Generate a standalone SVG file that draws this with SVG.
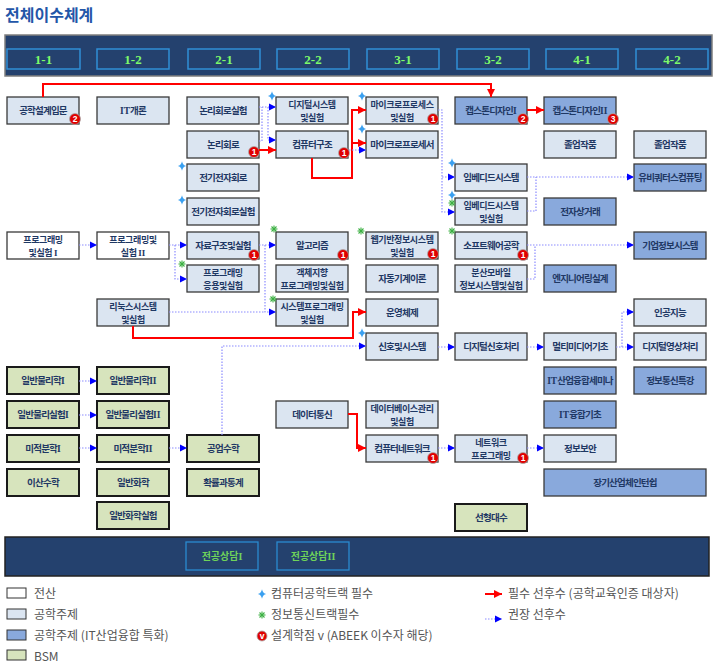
<svg xmlns="http://www.w3.org/2000/svg" width="715" height="664" viewBox="0 0 715 664">
<style>
.lt{fill:#dbe5f1;stroke:#3a3a3a;stroke-width:1.3}
.wh{fill:#ffffff;stroke:#3a3a3a;stroke-width:1.3}
.md{fill:#89a9dc;stroke:#3a3a3a;stroke-width:1.3}
.bs{fill:#d7e4bd;stroke:#1a1a1a;stroke-width:2}
.t{font-family:"Noto Sans CJK KR","Noto Sans",sans-serif;font-size:9.5px;font-weight:bold;fill:#1f3864;text-anchor:middle;letter-spacing:-0.8px}
.t2{font-family:"Noto Sans CJK KR","Noto Sans",sans-serif;font-size:9px;font-weight:bold;fill:#1f3864;text-anchor:middle;letter-spacing:-0.4px}
.rn{font-family:"Liberation Serif",serif;letter-spacing:0}
.sem{fill:#24416e;stroke:#2f8fd6;stroke-width:1.5}
.st{font-family:"Liberation Serif",serif;font-size:13px;font-weight:bold;fill:#7dfa6a;text-anchor:middle}
.red{fill:none;stroke:#ff0000;stroke-width:2;marker-end:url(#ar)}
.dot{fill:none;stroke:#8c8cff;stroke-width:1.2;stroke-dasharray:1.5 1.5;marker-end:url(#ab)}
.dotn{fill:none;stroke:#8c8cff;stroke-width:1.2;stroke-dasharray:1.5 1.5}
.bd circle{fill:#e00000;stroke:#aaaaaa;stroke-width:0.8}
.bd text{font-family:"Liberation Sans",sans-serif;font-size:8.5px;font-weight:bold;fill:#ffffff;text-anchor:middle}
.lg{font-family:"Noto Sans CJK KR","Noto Sans",sans-serif;font-size:12px;fill:#555555}
</style>
<defs>
<marker id="ab" viewBox="0 0 10 10" refX="10" refY="5" markerWidth="7" markerHeight="8" orient="auto" markerUnits="userSpaceOnUse"><path d="M0,0 L10,5 L0,10 Z" fill="#0000ff"/></marker>
<marker id="ar" viewBox="0 0 10 10" refX="10" refY="5" markerWidth="8" markerHeight="8" orient="auto" markerUnits="userSpaceOnUse"><path d="M0,0 L10,5 L0,10 Z" fill="#ff0000"/></marker>
<path id="star" d="M0,-4.8 Q0.8,-0.8 4.2,0 Q0.8,0.8 0,4.8 Q-0.8,0.8 -4.2,0 Q-0.8,-0.8 0,-4.8 Z" fill="#3aa0f0"/>
<g id="ast" stroke="#3cb043" stroke-width="1.1"><line x1="-3.5" y1="0" x2="3.5" y2="0"/><line x1="0" y1="-3.5" x2="0" y2="3.5"/><line x1="-2.5" y1="-2.5" x2="2.5" y2="2.5"/><line x1="-2.5" y1="2.5" x2="2.5" y2="-2.5"/></g>
</defs>

<text x="5" y="21" font-family="'Noto Sans CJK KR','Noto Sans',sans-serif" font-size="16" font-weight="bold" fill="#2356a8">전체이수체계</text>

<g id="header">
<rect x="5" y="35" width="707" height="41" fill="#24416e" stroke="#7f7f7f" stroke-width="1.5"/>
<rect class="sem" x="7" y="49" width="73" height="20"/><text class="st" x="43.5" y="63.5">1-1</text>
<rect class="sem" x="97" y="49" width="72" height="20"/><text class="st" x="133" y="63.5">1-2</text>
<rect class="sem" x="188" y="49" width="72" height="20"/><text class="st" x="224" y="63.5">2-1</text>
<rect class="sem" x="277" y="49" width="72" height="20"/><text class="st" x="313" y="63.5">2-2</text>
<rect class="sem" x="367" y="49" width="72" height="20"/><text class="st" x="403" y="63.5">3-1</text>
<rect class="sem" x="457" y="49" width="72" height="20"/><text class="st" x="493" y="63.5">3-2</text>
<rect class="sem" x="546" y="49" width="72" height="20"/><text class="st" x="582" y="63.5">4-1</text>
<rect class="sem" x="636" y="49" width="72" height="20"/><text class="st" x="672" y="63.5">4-2</text>
</g>

<g id="nodes">
<!-- 1-1 -->
<g id="n-design"><rect class="lt" x="7" y="97" width="72" height="27"/><text class="t" x="43" y="114">공학설계입문</text><g class="bd"><circle cx="75" cy="119" r="5.5"/><text x="75" y="122">2</text></g></g>
<g id="n-prog1"><rect class="wh" x="7" y="232" width="72" height="27"/><text class="t2" x="43" y="242.5">프로그래밍<tspan x="43" dy="13.1">및실험 </tspan><tspan class="rn">I</tspan></text></g>
<g id="n-phys1"><rect class="bs" x="7" y="367" width="72" height="27"/><text class="t" x="43" y="384">일반물리학<tspan class="rn">I</tspan></text></g>
<g id="n-physlab1"><rect class="bs" x="7" y="401" width="72" height="27"/><text class="t" x="43" y="418">일반물리실험<tspan class="rn">I</tspan></text></g>
<g id="n-calc1"><rect class="bs" x="7" y="435" width="72" height="27"/><text class="t" x="43" y="452">미적분학<tspan class="rn">I</tspan></text></g>
<g id="n-discrete"><rect class="bs" x="7" y="469" width="72" height="27"/><text class="t" x="43" y="486">이산수학</text></g>
<!-- 1-2 -->
<g id="n-it"><rect class="lt" x="97" y="97" width="72" height="27"/><text class="t" x="133" y="114"><tspan class="rn">IT</tspan>개론</text></g>
<g id="n-prog2"><rect class="wh" x="97" y="232" width="72" height="27"/><text class="t2" x="133" y="242.5">프로그래밍및<tspan x="133" dy="13.1">실험 </tspan><tspan class="rn">II</tspan></text></g>
<g id="n-linux"><rect class="lt" x="97" y="299" width="72" height="27"/><text class="t2" x="133" y="309.5">리눅스시스템<tspan x="133" dy="13.1">및실험</tspan></text></g>
<g id="n-phys2"><rect class="bs" x="97" y="367" width="72" height="27"/><text class="t" x="133" y="384">일반물리학<tspan class="rn">II</tspan></text></g>
<g id="n-physlab2"><rect class="bs" x="97" y="401" width="72" height="27"/><text class="t" x="133" y="418">일반물리실험<tspan class="rn">II</tspan></text></g>
<g id="n-calc2"><rect class="bs" x="97" y="435" width="72" height="27"/><text class="t" x="133" y="452">미적분학<tspan class="rn">II</tspan></text></g>
<g id="n-chem"><rect class="bs" x="97" y="469" width="72" height="27"/><text class="t" x="133" y="486">일반화학</text></g>
<g id="n-chemlab"><rect class="bs" x="97" y="502" width="72" height="27"/><text class="t" x="133" y="519">일반화학실험</text></g>
<!-- 2-1 -->
<g id="n-logiclab"><rect class="lt" x="187" y="97" width="72" height="27"/><text class="t" x="223" y="114">논리회로실험</text></g>
<g id="n-logic"><rect class="lt" x="187" y="131" width="72" height="27"/><text class="t" x="223" y="148">논리회로</text><g class="bd"><circle cx="254" cy="152" r="5.5"/><text x="254" y="155">1</text></g></g>
<g id="n-elec"><rect class="lt" x="187" y="164" width="72" height="27"/><text class="t" x="223" y="181">전기전자회로</text><use href="#star" x="182" y="166"/></g>
<g id="n-eleclab"><rect class="lt" x="187" y="198" width="72" height="27"/><text class="t" x="223" y="215">전기전자회로실험</text><use href="#star" x="182" y="200"/></g>
<g id="n-ds"><rect class="lt" x="187" y="232" width="72" height="27"/><text class="t" x="223" y="249">자료구조및실험</text><g class="bd"><circle cx="254" cy="255" r="5.5"/><text x="254" y="258">1</text></g></g>
<g id="n-progapp"><rect class="lt" x="187" y="265" width="72" height="27"/><text class="t2" x="223" y="275.5">프로그래밍<tspan x="223" dy="13.1">응용및실험</tspan></text><use href="#ast" x="182" y="264"/></g>
<g id="n-engmath"><rect class="bs" x="187" y="435" width="72" height="27"/><text class="t" x="223" y="452">공업수학</text></g>
<g id="n-prob"><rect class="bs" x="187" y="469" width="72" height="27"/><text class="t" x="223" y="486">확률과통계</text></g>
<!-- 2-2 -->
<g id="n-digsys"><rect class="lt" x="276" y="97" width="72" height="27"/><text class="t2" x="312" y="107.5">디지털시스템<tspan x="312" dy="13.1">및실험</tspan></text><use href="#star" x="272" y="96"/></g>
<g id="n-arch"><rect class="lt" x="276" y="131" width="72" height="27"/><text class="t" x="312" y="148">컴퓨터구조</text><g class="bd"><circle cx="344" cy="153" r="5.5"/><text x="344" y="156">1</text></g></g>
<g id="n-algo"><rect class="lt" x="276" y="232" width="72" height="27"/><text class="t" x="312" y="249">알고리즘</text><g class="bd"><circle cx="343" cy="255" r="5.5"/><text x="343" y="258">1</text></g><use href="#ast" x="274" y="229"/></g>
<g id="n-oop"><rect class="lt" x="276" y="265" width="72" height="27"/><text class="t2" x="312" y="275.5">객체지향<tspan x="312" dy="13.1">프로그래밍및실험</tspan></text></g>
<g id="n-sysprog"><rect class="lt" x="276" y="299" width="72" height="27"/><text class="t2" x="312" y="309.5">시스템프로그래밍<tspan x="312" dy="13.1">및실험</tspan></text><use href="#ast" x="273" y="299"/></g>
<g id="n-datacomm"><rect class="lt" x="276" y="401" width="72" height="27"/><text class="t" x="312" y="418">데이터통신</text></g>
<!-- 3-1 -->
<g id="n-mplab"><rect class="lt" x="366" y="97" width="72" height="27"/><text class="t2" x="402" y="107.5">마이크로프로세스<tspan x="402" dy="13.1">및실험</tspan></text><g class="bd"><circle cx="433" cy="119" r="5.5"/><text x="433" y="122">1</text></g><use href="#star" x="362" y="96"/></g>
<g id="n-mp"><rect class="lt" x="366" y="131" width="72" height="27"/><text class="t" x="402" y="148">마이크로프로세서</text><use href="#star" x="362" y="129"/></g>
<g id="n-web"><rect class="lt" x="366" y="232" width="72" height="27"/><text class="t2" x="402" y="242.5">웹기반정보시스템<tspan x="402" dy="13.1">및실험</tspan></text><g class="bd"><circle cx="433" cy="254" r="5.5"/><text x="433" y="257">1</text></g><use href="#ast" x="361" y="231"/></g>
<g id="n-automata"><rect class="lt" x="366" y="265" width="72" height="27"/><text class="t" x="402" y="282">자동기계이론</text></g>
<g id="n-os"><rect class="lt" x="366" y="299" width="72" height="27"/><text class="t" x="402" y="316">운영체제</text></g>
<g id="n-signal"><rect class="lt" x="366" y="333" width="72" height="27"/><text class="t" x="402" y="350">신호및시스템</text><use href="#star" x="362" y="333"/></g>
<g id="n-db"><rect class="lt" x="366" y="401" width="72" height="27"/><text class="t2" x="402" y="411.5">데이터베이스관리<tspan x="402" dy="13.1">및실험</tspan></text></g>
<g id="n-net"><rect class="lt" x="366" y="435" width="72" height="27"/><text class="t" x="402" y="452">컴퓨터네트워크</text><g class="bd"><circle cx="433" cy="458" r="5.5"/><text x="433" y="461">1</text></g></g>
<!-- 3-2 -->
<g id="n-cap1"><rect class="md" x="455" y="97" width="72" height="27"/><text class="t" x="491" y="114">캡스톤디자인<tspan class="rn">I</tspan></text><g class="bd"><circle cx="523" cy="119" r="5.5"/><text x="523" y="122">2</text></g></g>
<g id="n-emb"><rect class="lt" x="455" y="164" width="72" height="27"/><text class="t" x="491" y="181">임베디드시스템</text><use href="#star" x="452" y="163"/></g>
<g id="n-emblab"><rect class="lt" x="455" y="198" width="72" height="27"/><text class="t2" x="491" y="208.5">임베디드시스템<tspan x="491" dy="13.1">및실험</tspan></text><use href="#star" x="452" y="195"/><use href="#ast" x="452" y="203"/></g>
<g id="n-se"><rect class="lt" x="455" y="232" width="72" height="27"/><text class="t" x="491" y="249">소프트웨어공학</text><g class="bd"><circle cx="523" cy="255" r="5.5"/><text x="523" y="258">1</text></g><use href="#ast" x="452" y="231"/></g>
<g id="n-mobile"><rect class="lt" x="455" y="265" width="72" height="27"/><text class="t2" x="491" y="275.5">분산모바일<tspan x="491" dy="13.1">정보시스템및실험</tspan></text></g>
<g id="n-dsp"><rect class="lt" x="455" y="333" width="72" height="27"/><text class="t" x="491" y="350">디지털신호처리</text></g>
<g id="n-netprog"><rect class="lt" x="455" y="435" width="72" height="27"/><text class="t2" x="491" y="445.5">네트워크<tspan x="491" dy="13.1">프로그래밍</tspan></text><g class="bd"><circle cx="523" cy="458" r="5.5"/><text x="523" y="461">1</text></g></g>
<g id="n-linalg"><rect class="bs" x="455" y="504" width="72" height="27"/><text class="t" x="491" y="521">선형대수</text></g>
<!-- 4-1 -->
<g id="n-cap2"><rect class="md" x="544" y="97" width="72" height="27"/><text class="t" x="580" y="114">캡스톤디자인<tspan class="rn">II</tspan></text><g class="bd"><circle cx="613" cy="119" r="5.5"/><text x="613" y="122">3</text></g></g>
<g id="n-grad1"><rect class="lt" x="544" y="131" width="72" height="27"/><text class="t" x="580" y="148">졸업작품</text></g>
<g id="n-ecom"><rect class="md" x="544" y="198" width="72" height="27"/><text class="t" x="580" y="215">전자상거래</text></g>
<g id="n-engdesign"><rect class="md" x="544" y="265" width="72" height="27"/><text class="t" x="580" y="282">엔지니어링실계</text></g>
<g id="n-mm"><rect class="lt" x="544" y="333" width="72" height="27"/><text class="t" x="580" y="350">멀티미디어기초</text></g>
<g id="n-itsem"><rect class="md" x="544" y="367" width="72" height="27"/><text class="t" x="580" y="384"><tspan class="rn">IT</tspan>산업융합세미나</text></g>
<g id="n-itbase"><rect class="md" x="544" y="401" width="72" height="27"/><text class="t" x="580" y="418"><tspan class="rn">IT</tspan>융합기초</text></g>
<g id="n-sec"><rect class="lt" x="544" y="435" width="72" height="27"/><text class="t" x="580" y="452">정보보안</text></g>
<g id="n-intern"><rect class="md" x="544" y="469" width="162" height="27"/><text class="t" x="625" y="486">장기산업체인턴쉽</text></g>
<!-- 4-2 -->
<g id="n-grad2"><rect class="lt" x="634" y="131" width="72" height="27"/><text class="t" x="670" y="148">졸업작품</text></g>
<g id="n-ubi"><rect class="md" x="634" y="164" width="72" height="27"/><text class="t" x="670" y="181">유비쿼터스컴퓨팅</text></g>
<g id="n-erp"><rect class="md" x="634" y="232" width="72" height="27"/><text class="t" x="670" y="249">기업정보시스템</text></g>
<g id="n-ai"><rect class="lt" x="634" y="299" width="72" height="27"/><text class="t" x="670" y="316">인공지능</text></g>
<g id="n-dip"><rect class="lt" x="634" y="333" width="72" height="27"/><text class="t" x="670" y="350">디지털영상처리</text></g>
<g id="n-telecom"><rect class="md" x="634" y="367" width="72" height="27"/><text class="t" x="670" y="384">정보통신특강</text></g>
</g>

<g id="connectors">
<path class="red" d="M43,97 V84 H491 V97"/>
<path class="red" d="M527,110 H544"/>
<path class="red" d="M259,150 H276"/>
<path class="red" d="M312,158 V178 H352 V110 H366"/>
<path class="red" d="M352,143 H366"/>
<path class="red" d="M133,326 V338 H353 V312 H366"/>
<path class="red" d="M348,414 H357 V448 H366"/>
<path class="dot" d="M259,107 H276"/>
<path class="dotn" d="M259,141 H262 V107"/>
<path class="dot" d="M268,107 V140 H276"/>
<path class="dot" d="M349,150 H366"/>
<path class="dot" d="M438,110 H442 V212 H455"/>
<path class="dot" d="M442,177 H455"/>
<path class="dot" d="M527,177 H634"/>
<path class="dotn" d="M527,211 H536 V177"/>
<path class="dot" d="M79,245 H97"/>
<path class="dot" d="M169,245 H187"/>
<path class="dot" d="M175,245 V279 H187"/>
<path class="dot" d="M259,245 H276"/>
<path class="dot" d="M265,245 V312 H276"/>
<path class="dotn" d="M169,312 H265"/>
<path class="dot" d="M527,245 H634"/>
<path class="dotn" d="M527,279 H535 V245"/>
<path class="dot" d="M438,347 H455"/>
<path class="dot" d="M527,347 H544"/>
<path class="dot" d="M616,347 H634"/>
<path class="dot" d="M622,347 V312 H634"/>
<path class="dot" d="M222,435 V346 H366"/>
<path class="dot" d="M79,381 H97"/>
<path class="dot" d="M79,415 H97"/>
<path class="dot" d="M79,448 H97"/>
<path class="dot" d="M169,448 H187"/>
<path class="dot" d="M438,448 H455"/>
<path class="dot" d="M527,448 H544"/>
</g>

<g id="footer">
<rect x="5" y="537" width="704" height="39" fill="#24416e" stroke="#222222" stroke-width="1.5"/>
<rect x="186" y="542" width="72" height="28" fill="#24416e" stroke="#2a8ad0" stroke-width="1.3"/>
<text x="222" y="560" font-family="'Noto Sans CJK KR',sans-serif" font-size="10" font-weight="bold" fill="#6fd35a" text-anchor="middle">전공상담<tspan font-family="'Liberation Serif',serif">I</tspan></text>
<rect x="277" y="542" width="72" height="28" fill="#24416e" stroke="#2a8ad0" stroke-width="1.3"/>
<text x="313" y="560" font-family="'Noto Sans CJK KR',sans-serif" font-size="10" font-weight="bold" fill="#6fd35a" text-anchor="middle">전공상담<tspan font-family="'Liberation Serif',serif">II</tspan></text>
</g>

<g id="legend">
<rect x="7" y="588" width="19" height="10" fill="#ffffff" stroke="#333333"/>
<text class="lg" x="34" y="598">전산</text>
<rect x="7" y="609" width="19" height="10" fill="#dbe5f1" stroke="#333333"/>
<text class="lg" x="34" y="619">공학주제</text>
<rect x="7" y="630" width="19" height="10" fill="#89a9dc" stroke="#333333"/>
<text class="lg" x="34" y="640">공학주제 (IT산업융합 특화)</text>
<rect x="7" y="650" width="19" height="10" fill="#d7e4bd" stroke="#333333"/>
<text class="lg" x="34" y="661">BSM</text>
<use href="#star" x="262" y="594"/>
<text class="lg" x="271" y="598">컴퓨터공학트랙 필수</text>
<use href="#ast" x="262" y="615"/>
<text class="lg" x="271" y="619">정보통신트랙필수</text>
<g class="bd"><circle cx="262" cy="636" r="5"/><text x="262" y="639">v</text></g>
<text class="lg" x="271" y="640">설계학점 v (ABEEK 이수자 해당)</text>
<path class="red" d="M485,594 H502"/>
<text class="lg" x="508" y="598">필수 선후수 (공학교육인증 대상자)</text>
<path class="dot" d="M485,619 H502"/>
<text class="lg" x="508" y="619">권장 선후수</text>
</g>
</svg>
